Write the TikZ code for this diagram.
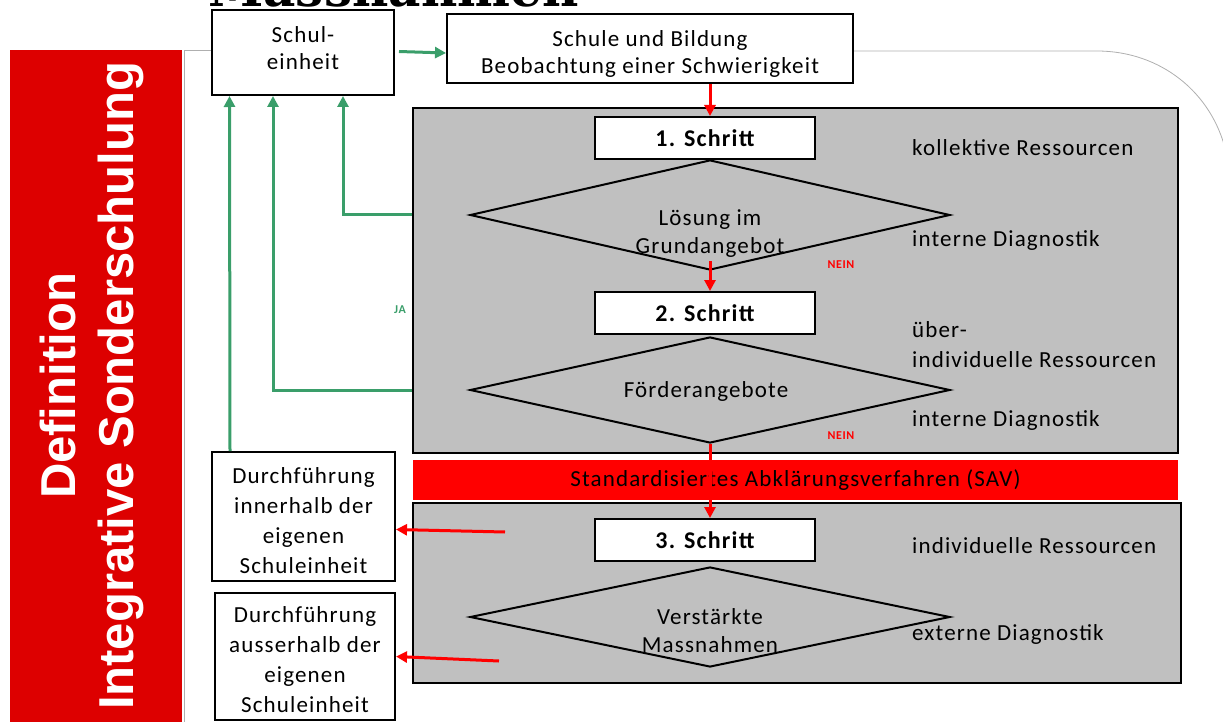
\documentclass[tikz,border=0pt]{standalone}
\usepackage{fontspec}
\setmainfont{Carlito}[LetterSpace=5]
\newfontfamily\arialfont{Liberation Sans}
\newfontfamily\titlefont{DejaVu Serif}
\usetikzlibrary{arrows.meta,calc,shapes.geometric}
\definecolor{gfill}{RGB}{192,192,192}
\definecolor{darkred}{RGB}{221,0,0}
\definecolor{savred}{RGB}{255,0,0}
\definecolor{jagreen}{RGB}{58,158,106}
\definecolor{framegrey}{RGB}{175,175,175}
\begin{document}
\begin{tikzpicture}[x=1pt,y=-1pt,
  wbox/.style={draw=black,line width=2pt,fill=white,inner sep=0pt,align=center,font=\fontsize{23}{27}\selectfont},
  boxtext/.style={inner sep=0pt,align=center,font=\fontsize{23}{27}\selectfont},
  area/.style={draw=black,line width=2pt,fill=gfill,inner sep=0pt},
  dia/.style={diamond,draw=black,line width=2pt,fill=gfill,inner sep=0pt},
  stepbox/.style={wbox,minimum width=220pt,minimum height=42pt,font=\bfseries\fontsize{24}{28}\selectfont},
  diatext/.style={align=center,font=\fontsize{23}{28}\selectfont},
  rarrow/.style={draw=savred,line width=3pt,-{Triangle[length=11pt,width=11pt]}},
  garrow/.style={draw=jagreen,line width=3pt,-{Triangle[length=11pt,width=11pt]}},
  side/.style={anchor=west,inner sep=0pt,align=left,font=\fontsize{23}{30}\selectfont},
  flag/.style={inner sep=0pt,font=\bfseries\fontsize{12}{12}\selectfont}
]
\useasboundingbox (0,0) rectangle (1223,722);

% title (cut off at the top)
\node[anchor=base west,inner sep=0pt,font=\titlefont\bfseries\fontsize{50}{50}\selectfont] (title) at (208,7) {Massnahmen};

% left red bar
\node[fill=darkred,inner sep=0pt,minimum width=172pt,minimum height=672pt] (bar) at (96,386) {};
\node[rotate=90,align=center,text=white,font=\arialfont\bfseries\fontsize{49}{58}\selectfont] (bartext) at (92,386) {Definition\\Integrative Sonderschulung};

% top boxes
\node[wbox,minimum width=182pt,minimum height=85pt] (se) at (303,52.5) {};
\node[boxtext] (set) at (303,48) {Schul-\\einheit};
\node[wbox,minimum width=406pt,minimum height=69pt] (bild) at (650,49) {};
\node[boxtext] (bildt) at (650,54) {Schule und Bildung\\Beobachtung einer Schwierigkeit};

% frame line
\draw[framegrey,line width=0.8pt] (184,722) -- (184,50) -- (se.west |- 0,50);
\draw[framegrey,line width=0.8pt] (bild.east |- 0,51) -- (1097,51) .. controls (1160,51) and (1212,92) .. (1226,152);

% grey areas
\node[area,minimum width=765pt,minimum height=345pt] (area1) at (795.5,280.5) {};
\node[area,minimum width=768pt,minimum height=180pt] (area2) at (797,593) {};
\node[fill=savred,inner sep=0pt,minimum width=765pt,minimum height=40pt,font=\fontsize{23}{27}\selectfont] (sav) at (795.5,480) {Standardisiertes Abklärungsverfahren (SAV)};

% diamonds
\node[dia,minimum width=480pt,minimum height=110pt] (d1) at (710,215) {};
\node[diatext] (d1t) at (710,234) {Lösung im\\Grundangebot};
\node[dia,minimum width=480pt,minimum height=106pt] (d2) at (710,390) {};
\node[diatext] (d2t) at (706,391) {Förderangebote};
\node[dia,minimum width=480pt,minimum height=100pt] (d3) at (710,617) {};
\node[diatext] (d3t) at (710,631) {Verstärkte\\Massnahmen};

% step boxes
\node[stepbox] (s1) at (705,138) {1. Schritt};
\node[stepbox] (s2) at (705,313) {2. Schritt};
\node[stepbox] (s3) at (705,540) {3. Schritt};

% side texts
\node[side] (k1) at (912,148) {kollektive Ressourcen};
\node[side] (k2) at (912,240) {interne Diagnostik};
\node[side] (k3) at (912,345) {über-\\individuelle Ressourcen};
\node[side] (k4) at (912,420) {interne Diagnostik};
\node[side] (k5) at (912,546) {individuelle Ressourcen};
\node[side] (k6) at (912,634) {externe Diagnostik};

% left boxes
\node[wbox,minimum width=183pt,minimum height=129pt] (din) at (303.5,516.5) {};
\node[boxtext,font=\fontsize{23}{30}\selectfont] (dint) at (303.5,520.5) {Durchführung\\innerhalb der\\eigenen\\Schuleinheit};
\node[wbox,minimum width=180pt,minimum height=127pt] (dout) at (305,656.5) {};
\node[boxtext,font=\fontsize{23}{30}\selectfont] (doutt) at (305,659.5) {Durchführung\\ausserhalb der\\eigenen\\Schuleinheit};

% labels
\node[flag,text=savred] (nein1) at (841,265) {NEIN};
\node[flag,text=savred] (nein2) at (841,436) {NEIN};
\node[flag,text=jagreen] (ja) at (400,310) {JA};

% red arrows
\draw[rarrow] (d1.north |- bild.south) -- (d1.north |- s1.north);
\draw[rarrow] ($(d1.south)+(0,-10)$) -- (s2.north -| d1.south);
\draw[rarrow] (d2.south) -- (s3.north -| d2.south);
\coordinate (r1) at (505,532);
\coordinate (r2) at (499,661);
\draw[rarrow] (r1) -- ($(din.east)+(0,13)$);
\draw[rarrow] (r2) -- (dout.east);

% green arrows
\draw[garrow] ($(se.east)+(4,-1)$) -- ($(bild.west)+(0,4)$);
\draw[garrow] (area1.west |- d1.west) -| ($(se.south)+(40,0)$);
\draw[garrow] (area1.west |- d2.west) -| ($(se.south)+(-30,0)$);
\draw[garrow] ($(din.north)+(-73.5,0)$) -- ($(se.south)+(-73.5,0)$);
\end{tikzpicture}
\end{document}
